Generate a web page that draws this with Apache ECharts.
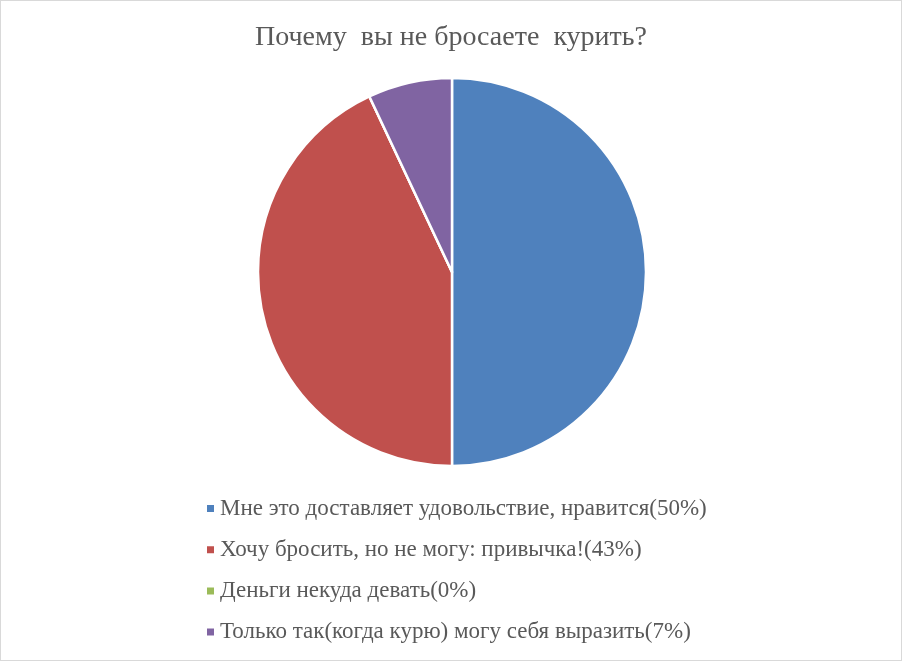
<!DOCTYPE html>
<html>
<head>
<meta charset="utf-8">
<script src="https://cdn.jsdelivr.net/npm/echarts@6/dist/echarts.min.js"></script>
<style>
html,body{margin:0;padding:0;background:#fff;}
#c{position:absolute;left:0;top:0;width:900px;height:659px;border:1px solid #d9d9d9;}
</style>
</head>
<body>
<div id="c"></div>
<script>
const titleText = 'Почему  вы не бросаете  курить?';
const categories = [
  'Мне это доставляет удовольствие, нравится(50%)',
  'Хочу бросить, но не могу: привычка!(43%)',
  'Деньги некуда девать(0%)',
  'Только так(когда курю) могу себя выразить(7%)'
];
const values = [50, 43, 0, 7];
const colors = ['#4f81bd', '#c0504d', '#9bbb59', '#8064a2'];
const serif = '"Liberation Serif", "Times New Roman", "DejaVu Serif", serif';

const chart = echarts.init(document.getElementById('c'));
chart.setOption({
  animation: false,
  color: colors,
  title: {
    text: titleText,
    left: 'center',
    top: 18,
    textStyle: {fontFamily: serif, fontSize: 28, fontWeight: 'normal', color: '#595959'}
  },
  legend: {
    orient: 'vertical',
    left: 199,
    top: 491,
    icon: 'rect',
    itemWidth: 9,
    itemHeight: 9,
    itemGap: 18.2,
    data: categories,
    textStyle: {fontFamily: serif, fontSize: 23, color: '#595959', lineHeight: 23, padding: [0,0,0,0]}
  },
  series: [{
    type: 'pie',
    center: [451, 271],
    radius: [0, 194],
    startAngle: 90,
    clockwise: true,
    label: {show: false},
    labelLine: {show: false},
    emphasis: {disabled: true},
    itemStyle: {borderColor: '#fff', borderWidth: 2.5},
    data: categories.map((n, i) => ({name: n, value: values[i]}))
  }]
});
</script>
</body>
</html>
